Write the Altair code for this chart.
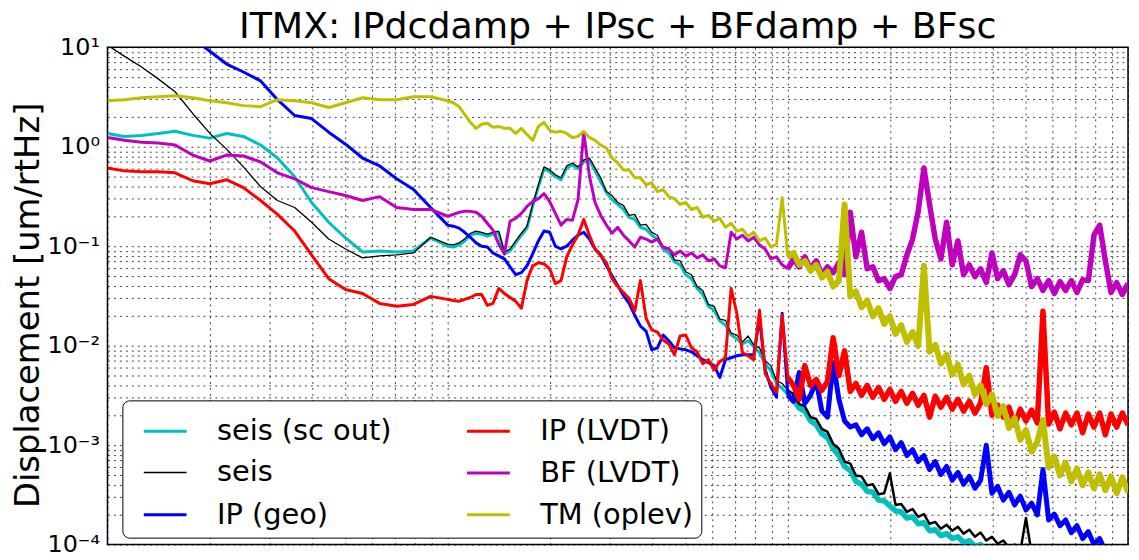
import altair as alt
import pandas as pd

TITLE = "ITMX: IPdcdamp + IPsc + BFdamp + BFsc"
Y_TITLE = "Displacement [um/rtHz]"

# frequency grid [Hz]
FREQ_HZ = [
    0.0100, 0.0112, 0.0126, 0.0141, 0.0158, 0.0178, 0.0200, 0.0224, 0.0251, 0.0282,
    0.0316, 0.0355, 0.0398, 0.0447, 0.0501, 0.0562, 0.0631, 0.0708, 0.0794, 0.0891,
    0.1000, 0.1039, 0.1080, 0.1122, 0.1166, 0.1212, 0.1259, 0.1308, 0.1359, 0.1413,
    0.1468, 0.1526, 0.1585, 0.1647, 0.1711, 0.1778, 0.1848, 0.1920, 0.1995, 0.2073,
    0.2154, 0.2239, 0.2326, 0.2417, 0.2512, 0.2610, 0.2712, 0.2818, 0.2929, 0.3043,
    0.3162, 0.3286, 0.3415, 0.3548, 0.3687, 0.3831, 0.3981, 0.4137, 0.4299, 0.4467,
    0.4642, 0.4823, 0.5012, 0.5208, 0.5412, 0.5623, 0.5843, 0.6072, 0.6310, 0.6556,
    0.6813, 0.7079, 0.7356, 0.7644, 0.7943, 0.8254, 0.8577, 0.8913, 0.9261, 0.9624,
    1.000, 1.039, 1.080, 1.122, 1.166, 1.212, 1.259, 1.308, 1.359, 1.413,
    1.468, 1.526, 1.585, 1.647, 1.711, 1.778, 1.848, 1.920, 1.995, 2.073,
    2.154, 2.239, 2.326, 2.417, 2.512, 2.610, 2.712, 2.818, 2.929, 3.043,
    3.162, 3.286, 3.415, 3.548, 3.687, 3.831, 3.981, 4.137, 4.299, 4.467,
    4.642, 4.823, 5.012, 5.208, 5.412, 5.623, 5.843, 6.072, 6.310, 6.556,
    6.813, 7.079, 7.356, 7.644, 7.943, 8.254, 8.577, 8.913, 9.261, 9.624,
    10.00,
]

SEIS_SC_OUT = [
    1.36, 1.27, 1.30, 1.36, 1.43, 1.30, 1.22, 1.36, 1.27, 1.04,
    0.770, 0.499, 0.275, 0.174, 0.121, 0.0876, 0.0896, 0.0876, 0.0896, 0.121,
    0.100, 0.098, 0.103, 0.113, 0.129, 0.135, 0.132, 0.126, 0.132, 0.135,
    0.0837, 0.0896, 0.108, 0.129, 0.152, 0.251, 0.396, 0.599, 0.560, 0.499,
    0.466, 0.612, 0.656, 0.599, 0.703, 0.736, 0.572, 0.445, 0.346, 0.294,
    0.263, 0.234, 0.195, 0.186, 0.155, 0.148, 0.129, 0.118, 0.0938, 0.0855,
    0.0697, 0.0650, 0.0517, 0.0472, 0.0376, 0.0327, 0.0249, 0.0227, 0.0177, 0.0161,
    0.0128, 0.0117, 0.0104, 0.0112, 0.00973, 0.00848, 0.00659, 0.00562, 0.00417, 0.00372,
    0.00324, 0.00289, 0.00235, 0.00220, 0.00175, 0.00160, 0.00130, 0.00119, 0.000921, 0.000785,
    0.000610, 0.000557, 0.000433, 0.000404, 0.000344, 0.000336, 0.000280, 0.000274, 0.000244, 0.000218,
    0.000213, 0.000185, 0.000190, 0.000162, 0.000166, 0.000138, 0.000141, 0.000123, 0.000129, 0.000115,
    0.000120, 0.000105, 0.000110, 0.0000955, 0.000100, 0.0000871, 0.0000912, 0.0000795, 0.0000833, 0.0000726,
    0.0000760, 0.0000662, 0.0000693, 0.0000604, 0.0000633, 0.0000551, 0.0000577, 0.0000503, 0.0000527, 0.0000459,
    0.0000481, 0.0000419, 0.0000439, 0.0000382, 0.0000400, 0.0000349, 0.0000365, 0.0000318, 0.0000333, 0.0000291,
    0.0000304,
]

SEIS = [
    10.5, 8.14, 6.33, 4.81, 3.57, 2.16, 1.36, 0.946, 0.627, 0.396,
    0.288, 0.245, 0.174, 0.118, 0.0938, 0.0763, 0.0799, 0.0818, 0.0855, 0.123,
    0.105, 0.103, 0.108, 0.118, 0.135, 0.142, 0.138, 0.132, 0.138, 0.142,
    0.0876, 0.0938, 0.113, 0.135, 0.159, 0.263, 0.415, 0.627, 0.585, 0.522,
    0.488, 0.641, 0.687, 0.627, 0.736, 0.770, 0.612, 0.488, 0.354, 0.323,
    0.275, 0.257, 0.204, 0.209, 0.163, 0.166, 0.138, 0.129, 0.098, 0.0959,
    0.0729, 0.0713, 0.0554, 0.0517, 0.0393, 0.0359, 0.0260, 0.0249, 0.0185, 0.0180,
    0.0134, 0.0128, 0.0109, 0.0125, 0.0102, 0.00951, 0.00706, 0.00630, 0.00447, 0.00417,
    0.00356, 0.00324, 0.00258, 0.00246, 0.00191, 0.00183, 0.00146, 0.00136, 0.00103, 0.000921,
    0.000684, 0.000653, 0.000496, 0.000485, 0.000394, 0.000404, 0.000321, 0.000329, 0.000520, 0.000250,
    0.000256, 0.000213, 0.000228, 0.000190, 0.000203, 0.000162, 0.000169, 0.000144, 0.000158, 0.000138,
    0.000151, 0.000129, 0.000141, 0.000120, 0.000132, 0.000110, 0.000120, 0.000102, 0.000110, 0.0000933,
    0.000100, 0.0000852, 0.000185, 0.0000814, 0.0000833, 0.0000743, 0.0000778, 0.0000678, 0.0000709, 0.0000618,
    0.0000647, 0.0000564, 0.0000590, 0.0000515, 0.0000539, 0.0000470, 0.0000492, 0.0000429, 0.0000449, 0.0000391,
    0.0000409,
]

# off the top of the plot below 0.0178 Hz
IP_GEO = [
    None, None, None, None, None, 12.3, 9.12, 6.78, 5.64, 4.59,
    2.97, 2.06, 1.92, 1.40, 1.06, 0.770, 0.641, 0.476, 0.371, 0.245,
    0.163, 0.159, 0.152, 0.138, 0.123, 0.108, 0.100, 0.098, 0.0855, 0.0799,
    0.0746, 0.0621, 0.0517, 0.0542, 0.0635, 0.0837, 0.113, 0.142, 0.138, 0.100,
    0.0938, 0.100, 0.115, 0.129, 0.138, 0.118, 0.0938, 0.0818, 0.0635, 0.0506,
    0.0402, 0.0320, 0.0266, 0.0202, 0.0157, 0.0140, 0.00908, 0.00951, 0.0128, 0.0112,
    0.00951, 0.00929, 0.00908, 0.00867, 0.00792, 0.00723, 0.00675, 0.00630, 0.00479, 0.00723,
    0.00756, 0.00792, 0.00811, 0.00811, 0.00811, 0.0189, 0.00574, 0.00381, 0.00303, 0.0212,
    0.00317, 0.00276, 0.00537, 0.00264, 0.00317, 0.00447, 0.00220, 0.00191, 0.00675, 0.00289,
    0.00175, 0.00152, 0.00160, 0.00127, 0.00146, 0.00116, 0.00133, 0.00103, 0.00121, 0.000900,
    0.00106, 0.000785, 0.000900, 0.000684, 0.000785, 0.000569, 0.000684, 0.000508, 0.000610, 0.000443,
    0.000532, 0.000404, 0.000485, 0.000369, 0.000443, 0.00100, 0.000329, 0.000386, 0.000280, 0.000336,
    0.000250, 0.000307, 0.000223, 0.000261, 0.000199, 0.000569, 0.000177, 0.000203, 0.000155, 0.000177,
    0.000132, 0.000155, 0.000115, 0.000135, 0.000100, 0.000115, 0.0000852, 0.0000955, 0.0000743, 0.0000833,
    0.0000647,
]

IP_LVDT = [
    0.612, 0.572, 0.560, 0.560, 0.547, 0.455, 0.425, 0.466, 0.388, 0.288,
    0.209, 0.142, 0.0818, 0.0472, 0.0367, 0.0335, 0.0266, 0.0249, 0.0260, 0.0313,
    0.0292, 0.0285, 0.0279, 0.0292, 0.0305, 0.0327, 0.0327, 0.0254, 0.0266, 0.0376,
    0.0335, 0.0305, 0.0279, 0.0238, 0.0451, 0.0635, 0.0681, 0.0665, 0.0593, 0.0421,
    0.0451, 0.0781, 0.103, 0.129, 0.186, 0.129, 0.0938, 0.0799, 0.0681, 0.0472,
    0.0393, 0.0343, 0.0299, 0.0222, 0.0451, 0.0189, 0.0144, 0.0137, 0.0114, 0.0104,
    0.00811, 0.0125, 0.0128, 0.00951, 0.00867, 0.00659, 0.00723, 0.00574, 0.00690, 0.00756,
    0.0376, 0.0212, 0.00848, 0.00792, 0.00723, 0.0227, 0.00525, 0.00417, 0.00340, 0.0202,
    0.00479, 0.00398, 0.00289, 0.00630, 0.00398, 0.00457, 0.00356, 0.00437, 0.0120, 0.00501,
    0.00887, 0.00347, 0.00417, 0.00317, 0.00398, 0.00303, 0.00381, 0.00289, 0.00364, 0.00276,
    0.00347, 0.00264, 0.00332, 0.00252, 0.00317, 0.00191, 0.00310, 0.00241, 0.00303, 0.00230,
    0.00289, 0.00220, 0.00276, 0.00210, 0.00264, 0.00601, 0.00200, 0.00252, 0.00191, 0.00241,
    0.00160, 0.00230, 0.00175, 0.00225, 0.00167, 0.0222, 0.00163, 0.00215, 0.00146, 0.00210,
    0.00160, 0.00210, 0.00133, 0.00205, 0.00152, 0.00210, 0.00127, 0.00205, 0.00152, 0.00210,
    0.00160,
]

BF_LVDT = [
    1.24, 1.16, 1.11, 1.09, 1.04, 0.825, 0.719, 0.825, 0.807, 0.703,
    0.547, 0.476, 0.388, 0.354, 0.323, 0.288, 0.315, 0.245, 0.234, 0.234,
    0.200, 0.209, 0.219, 0.224, 0.224, 0.219, 0.200, 0.170, 0.145, 0.105,
    0.0837, 0.178, 0.191, 0.214, 0.251, 0.281, 0.301, 0.338, 0.281, 0.214,
    0.163, 0.186, 0.182, 0.294, 1.40, 0.510, 0.275, 0.204, 0.163, 0.135,
    0.155, 0.129, 0.113, 0.098, 0.123, 0.118, 0.110, 0.118, 0.098, 0.0938,
    0.0818, 0.0896, 0.0799, 0.0855, 0.0763, 0.0818, 0.0713, 0.0746, 0.0635, 0.0607,
    0.138, 0.118, 0.129, 0.113, 0.123, 0.103, 0.0938, 0.0746, 0.0781, 0.0650,
    0.0593, 0.0746, 0.0621, 0.0781, 0.0593, 0.0713, 0.0517, 0.0621, 0.0542, 0.0681,
    0.0517, 0.219, 0.0781, 0.138, 0.0593, 0.0621, 0.0451, 0.0472, 0.0376, 0.0494,
    0.0517, 0.0818, 0.118, 0.224, 0.612, 0.263, 0.118, 0.0746, 0.174, 0.0650,
    0.113, 0.0517, 0.0650, 0.0494, 0.0593, 0.0431, 0.0855, 0.0472, 0.0566, 0.0411,
    0.0517, 0.0818, 0.0713, 0.0393, 0.0472, 0.0359, 0.0451, 0.0335, 0.0441, 0.0359,
    0.0451, 0.0343, 0.0461, 0.0451, 0.129, 0.163, 0.0713, 0.0343, 0.0431, 0.0327,
    0.0421,
]

TM_OPLEV = [
    2.90, 2.97, 3.11, 3.18, 3.26, 3.11, 2.90, 2.77, 2.59, 2.53,
    2.97, 2.90, 2.77, 2.48, 2.77, 3.11, 2.97, 2.97, 3.18, 3.18,
    2.90, 2.77, 2.53, 2.11, 1.76, 1.53, 1.68, 1.72, 1.57, 1.60,
    1.53, 1.53, 1.36, 1.53, 1.33, 1.16, 1.60, 1.76, 1.46, 1.40,
    1.43, 1.36, 1.24, 1.27, 1.43, 1.24, 1.16, 1.04, 0.97, 0.77,
    0.69, 0.585, 0.585, 0.488, 0.488, 0.415, 0.435, 0.354, 0.371, 0.315,
    0.301, 0.263, 0.275, 0.234, 0.245, 0.195, 0.204, 0.178, 0.191, 0.155,
    0.170, 0.142, 0.148, 0.126, 0.138, 0.113, 0.121, 0.098, 0.105, 0.308,
    0.0781, 0.0855, 0.0650, 0.0713, 0.0566, 0.0650, 0.0483, 0.0554, 0.0393, 0.0451,
    0.263, 0.0313, 0.0351, 0.0243, 0.0285, 0.0198, 0.0238, 0.0165, 0.0198, 0.0131,
    0.0161, 0.0109, 0.0137, 0.00995, 0.0635, 0.00867, 0.0102, 0.00659, 0.00811, 0.00513,
    0.00644, 0.00408, 0.00501, 0.00324, 0.00398, 0.00258, 0.00324, 0.00196, 0.00246, 0.00149,
    0.00187, 0.00113, 0.00142, 0.000859, 0.00108, 0.00179, 0.000596, 0.000767, 0.000496, 0.000668,
    0.000433, 0.000582, 0.000394, 0.000532, 0.000369, 0.000508, 0.000352, 0.000485, 0.000329, 0.000474,
    0.000336,
]

SERIES_NAMES = ["seis (sc out)", "seis", "IP (geo)", "IP (LVDT)", "BF (LVDT)", "TM (oplev)"]
SERIES_VALUES = [SEIS_SC_OUT, SEIS, IP_GEO, IP_LVDT, BF_LVDT, TM_OPLEV]
SERIES_COLORS = ["#00BFBF", "#000000", "#0000FF", "#FF0000", "#BF00BF", "#BFBF00"]
SERIES_WIDTHS = [3, 1.3, 3, 3, 3, 3]            # low-frequency part
SERIES_HF_WIDTHS = [5.5, 2.5, 5, 5.5, 5.5, 6]   # noisy part above 1 Hz

X_GRID = [0.01, 0.02, 0.03, 0.04, 0.05, 0.06, 0.07, 0.08, 0.09,
          0.1, 0.2, 0.3, 0.4, 0.5, 0.6, 0.7, 0.8, 0.9,
          1, 2, 3, 4, 5, 6, 7, 8, 9, 10]
Y_GRID = [1e-4, 2e-4, 3e-4, 4e-4, 5e-4, 6e-4, 7e-4, 8e-4, 9e-4,
          1e-3, 2e-3, 3e-3, 4e-3, 5e-3, 6e-3, 7e-3, 8e-3, 9e-3,
          0.01, 0.02, 0.03, 0.04, 0.05, 0.06, 0.07, 0.08, 0.09,
          0.1, 0.2, 0.3, 0.4, 0.5, 0.6, 0.7, 0.8, 0.9,
          1, 2, 3, 4, 5, 6, 7, 8, 9, 10]
Y_DECADE_LABELS = [(10, "10¹"), (1, "10⁰"), (0.1, "10⁻¹"), (0.01, "10⁻²"),
                   (0.001, "10⁻³"), (0.0001, "10⁻⁴")]

for vals in SERIES_VALUES:
    assert len(vals) == len(FREQ_HZ), len(vals)

rows = []
for name, vals in zip(SERIES_NAMES, SERIES_VALUES):
    for f, v in zip(FREQ_HZ, vals):
        if v is not None:
            rows.append({"freq": f, "amp": v, "series": name})
df = pd.DataFrame(rows)

label_expr = ""
for val, txt in Y_DECADE_LABELS:
    label_expr += f"datum.value == {val} ? '{txt}' : "
label_expr += "''"

FONT = "DejaVu Sans"

x_enc = alt.X(
    "freq:Q",
    scale=alt.Scale(type="log", domain=[0.01, 10], nice=False),
    axis=alt.Axis(values=X_GRID, labels=False, ticks=False, domain=False,
                  title=None, grid=True),
)
y_enc = alt.Y(
    "amp:Q",
    scale=alt.Scale(type="log", domain=[1e-4, 10], nice=False),
    axis=alt.Axis(values=Y_GRID, labelExpr=label_expr, ticks=False, domain=False,
                  grid=True, labelFontSize=24, labelFont=FONT, labelColor="black",
                  labelPadding=8, labelOverlap=False, labelBound=False,
                  title=Y_TITLE, titleFontSize=34, titleFont=FONT,
                  titleFontWeight="normal", titleColor="black", titleAngle=270,
                  titleX=-69, titleY=259, titleAlign="center",
                  titleBaseline="alphabetic"),
)
legend = alt.Legend(
    title=None, orient="none", legendX=15, legendY=355, columns=2,
    columnPadding=62, rowPadding=4, symbolType="stroke", symbolSize=1849,
    symbolOffset=12, labelFontSize=29, labelFont=FONT, labelColor="black",
    labelOffset=29, labelLimit=400, fillColor="white", strokeColor="black",
    padding=8, cornerRadius=7, symbolStrokeWidth=3,
)
color_enc = alt.Color("series:N",
                      scale=alt.Scale(domain=SERIES_NAMES, range=SERIES_COLORS),
                      legend=legend)
width_enc = alt.StrokeWidth("series:N",
                            scale=alt.Scale(type="ordinal", domain=SERIES_NAMES,
                                            range=SERIES_WIDTHS),
                            legend=legend)

base = alt.Chart(df)
layers = []
for name, hf_w in zip(SERIES_NAMES, SERIES_HF_WIDTHS):
    one = base.transform_filter(alt.datum.series == name)
    layers.append(
        one.transform_filter(alt.datum.freq <= 1.0)
        .mark_line(clip=True, strokeJoin="round")
        .encode(x=x_enc, y=y_enc, color=color_enc, strokeWidth=width_enc)
    )
    layers.append(
        one.transform_filter(alt.datum.freq >= 1.0)
        .mark_line(clip=True, strokeJoin="round", strokeWidth=hf_w)
        .encode(x=x_enc, y=y_enc, color=color_enc)
    )

chart = (
    alt.layer(*layers)
    .properties(
        width=1026,
        height=500,
        title=alt.TitleParams(TITLE, fontSize=36.5, font=FONT, fontWeight="normal",
                              anchor="middle", baseline="bottom", offset=0, dy=47,
                              frame="group", color="black"),
        padding={"left": 100, "top": 38, "right": 3, "bottom": 14},
        autosize=alt.AutoSizeParams(type="none"),
    )
    .configure_view(stroke="black", strokeWidth=1.5)
    .configure_axis(gridColor="#000000", gridDash=[2, 4], gridWidth=1,
                    gridOpacity=0.75)
)

chart.save("out.html", embed_options={"renderer": "svg", "actions": False})
